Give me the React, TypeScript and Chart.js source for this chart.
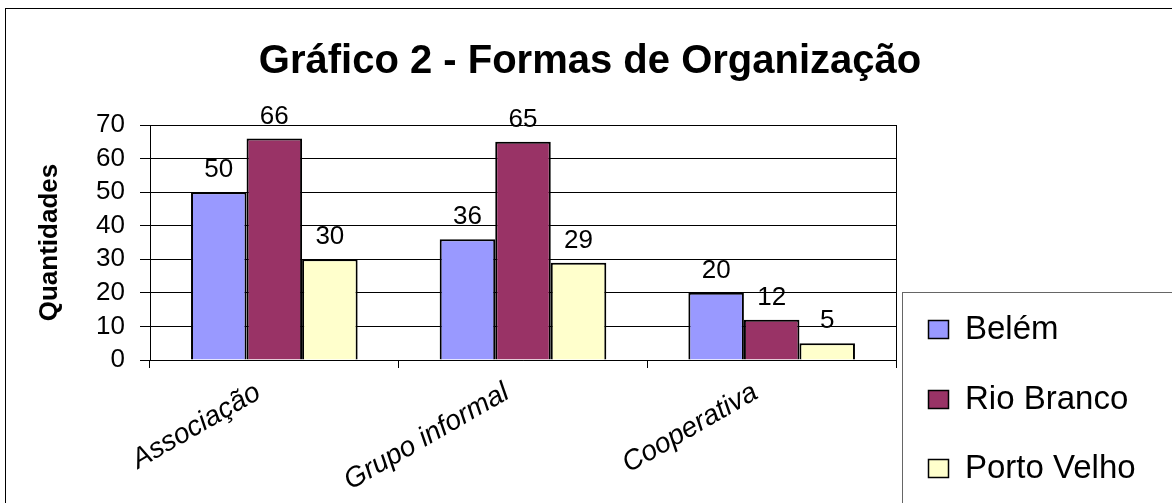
import React, { useEffect, useRef } from 'react';
import { Chart, registerables } from 'chart.js';

Chart.register(...registerables);

const categories = ['Associação', 'Grupo informal', 'Cooperativa'];
const seriesNames = ['Belém', 'Rio Branco', 'Porto Velho'];
const belem = [50, 36, 20];
const rioBranco = [66, 65, 12];
const portoVelho = [30, 29, 5];
const seriesColors = ['#9999FF', '#993366', '#FFFFCC'];
const yTickValues = [0, 10, 20, 30, 40, 50, 60, 70];
const titleText = 'Gráfico 2 - Formas de Organização';
const yAxisTitle = 'Quantidades';

const FONT = '"Liberation Sans", Arial, Helvetica, sans-serif';

const decorPlugin = {
  id: 'decor',
  beforeDraw(chart: any) {
    const { ctx, width, height } = chart;
    ctx.save();
    ctx.fillStyle = '#ffffff';
    ctx.fillRect(0, 0, width, height);
    ctx.strokeStyle = '#000000';
    ctx.lineWidth = 1;
    ctx.strokeRect(5.5, 8.5, width + 20, height + 20);
    ctx.fillStyle = '#000000';
    ctx.font = `bold 40px ${FONT}`;
    ctx.textAlign = 'center';
    ctx.textBaseline = 'middle';
    ctx.fillText(titleText, 590, 62);
    ctx.restore();
  },
  afterDatasetsDraw(chart: any) {
    const { ctx } = chart;
    ctx.save();
    ctx.fillStyle = '#000000';
    ctx.font = `26px ${FONT}`;
    ctx.textAlign = 'center';
    ctx.textBaseline = 'middle';
    chart.data.datasets.forEach((ds: any, di: number) => {
      const meta = chart.getDatasetMeta(di);
      meta.data.forEach((el: any, i: number) => {
        ctx.fillText(String(ds.data[i]), el.x, el.y - 22);
      });
    });
    ctx.restore();
  },
  afterDraw(chart: any) {
    const { ctx, chartArea } = chart;
    ctx.save();
    ctx.strokeStyle = '#000000';
    ctx.lineWidth = 1;
    ctx.beginPath();
    ctx.moveTo(Math.round(chartArea.right) + 0.5, chartArea.top);
    ctx.lineTo(Math.round(chartArea.right) + 0.5, chartArea.bottom);
    ctx.stroke();
    ctx.strokeStyle = '#666666';
    ctx.strokeRect(902.5, 292.5, 400, 400);
    const ys = [329, 399, 468];
    ctx.font = `33px ${FONT}`;
    ctx.textAlign = 'left';
    ctx.textBaseline = 'middle';
    chart.data.datasets.forEach((ds: any, i: number) => {
      const y = ys[i];
      ctx.fillStyle = ds.backgroundColor;
      ctx.fillRect(928, y - 9, 21, 19);
      ctx.strokeStyle = '#000000';
      ctx.lineWidth = 1.5;
      ctx.strokeRect(928.5, y - 8.5, 20, 18);
      ctx.fillStyle = '#000000';
      ctx.fillText(ds.label, 965, y + 1);
    });
    ctx.restore();
  },
};

export default function App() {
  const ref = useRef<HTMLCanvasElement>(null);
  useEffect(() => {
    if (!ref.current) return;
    const seriesValues = [belem, rioBranco, portoVelho];
    const chart = new Chart(ref.current, {
      type: 'bar',
      data: {
        labels: categories,
        datasets: seriesNames.map((name, i) => ({
          label: name,
          data: seriesValues[i],
          backgroundColor: seriesColors[i],
          borderColor: '#000000',
          borderWidth: 2,
          categoryPercentage: 0.67,
          barPercentage: 1.0,
        })),
      },
      options: {
        responsive: false,
        animation: false,
        layout: { padding: { left: 0, top: 125, right: 276, bottom: 0 } },
        plugins: {
          legend: { display: false },
          title: { display: false },
          tooltip: { enabled: false },
        },
        scales: {
          x: {
            offset: true,
            grid: {
              display: true,
              drawOnChartArea: false,
              drawTicks: true,
              tickLength: 8,
              color: '#000000',
              offset: true,
            },
            border: { display: true, color: '#000000', width: 1 },
            ticks: {
              color: '#000000',
              font: { family: FONT, size: 28, style: 'italic' },
              minRotation: 30,
              maxRotation: 30,
              padding: 8,
              labelOffset: -16,
              autoSkip: false,
            },
            afterFit: (scale: any) => {
              scale.height = 143;
            },
          },
          y: {
            min: 0,
            max: 70,
            afterBuildTicks: (scale: any) => {
              scale.ticks = yTickValues.map((v) => ({ value: v }));
            },
            grid: {
              color: '#000000',
              lineWidth: 1,
              drawTicks: true,
              tickLength: 10,
            },
            border: { display: true, color: '#000000', width: 1 },
            ticks: {
              color: '#000000',
              font: { family: FONT, size: 26, lineHeight: 1 },
              padding: 15,
              autoSkip: false,
            },
            title: {
              display: true,
              text: yAxisTitle,
              color: '#000000',
              font: { family: FONT, size: 26, weight: 'bold' },
              padding: { top: 34, bottom: 0 },
            },
            afterFit: (scale: any) => {
              scale.width = 150;
            },
          },
        },
      },
      plugins: [decorPlugin],
    });
    return () => chart.destroy();
  }, []);
  return (
    <div style={{ position: 'absolute', left: 0, top: 0, width: 1172, height: 503, background: '#fff' }}>
      <canvas ref={ref} width={1172} height={503} />
    </div>
  );
}
